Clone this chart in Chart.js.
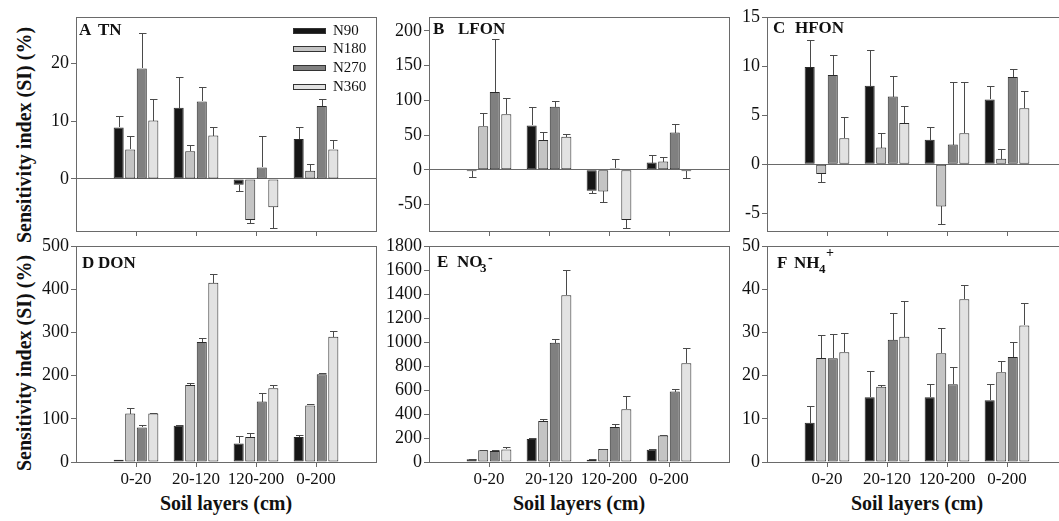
<!DOCTYPE html>
<html><head><meta charset="utf-8">
<script src="https://cdn.jsdelivr.net/npm/chart.js@4.4.1/dist/chart.umd.min.js"></script>
<style>
html,body{margin:0;padding:0;background:#fff;width:1059px;height:521px;overflow:hidden;position:relative;font-family:"Liberation Serif","Times New Roman",serif;color:#111;}
canvas{position:absolute;}
.ylab{position:absolute;font-weight:bold;font-size:20px;white-space:nowrap;transform:translate(-50%,-50%) rotate(-90deg);}
.xlab{position:absolute;font-weight:bold;font-size:20px;white-space:nowrap;transform:translate(-50%,-50%);}
</style></head><body>
<div class="ylab" style="left:24px;top:135px;">Sensitivity index (SI) (%)</div>
<div class="ylab" style="left:24px;top:363px;">Sensitivity index (SI) (%)</div>
<div class="xlab" style="left:226px;top:503px;">Soil layers (cm)</div>
<div class="xlab" style="left:579px;top:503px;">Soil layers (cm)</div>
<div class="xlab" style="left:917px;top:503px;">Soil layers (cm)</div>
<script>
// ---------- data ----------
const categories = ['0-20', '20-120', '120-200', '0-200'];
const seriesNames = ['N90', 'N180', 'N270', 'N360'];
// each panel: rows = N90, N180, N270, N360 ; columns follow categories
const TN_mean = [[8.9, 12.3, -1.0, 6.9], [5.1, 4.8, -7.1, 1.4], [19.1, 13.4, 2.0, 12.6], [10.1, 7.5, -4.9, 5.1]];
const TN_err  = [[2.0, 5.4, 1.1, 2.0], [2.3, 1.1, 0.6, 1.2], [6.1, 2.5, 5.4, 1.3], [3.8, 1.4, 3.6, 1.6]];
const LFON_mean = [[-2, 64, -30, 10.5], [62.7, 43, -31, 12], [112, 91, 2, 53.6], [80, 47.5, -72, -2]];
const LFON_err  = [[7.6, 26, 3, 11.5], [19, 11, 15, 7], [77, 7.5, 13, 13], [24, 3.5, 11, 9]];
const HFON_mean = [[9.9, 8.0, 2.5, 6.6], [-1.0, 1.7, -4.3, 0.55], [9.1, 6.9, 2.0, 8.9], [2.65, 4.2, 3.15, 5.7]];
const HFON_err  = [[2.8, 3.6, 1.25, 1.4], [0.85, 1.45, 1.8, 1.05], [2.0, 2.1, 6.4, 0.85], [2.2, 1.75, 5.25, 1.8]];
const DON_mean = [[5, 84, 43, 58], [112, 178, 58, 131], [80, 278, 140, 203], [112, 415, 171, 290]];
const DON_err  = [[0, 2.5, 17, 5.5], [14, 6, 9, 3], [5, 10, 19, 3], [1.5, 21, 8, 13]];
const NO3_mean = [[22, 191, 19, 102], [97, 341, 108, 221], [91, 994, 291, 587], [105, 1390, 440, 822]];
const NO3_err  = [[6, 8, 6, 9], [5, 16, 3, 6], [11, 28, 27, 19], [22, 208, 111, 125]];
const NH4_mean = [[9.1, 15, 15, 14.3], [24.1, 17.4, 25.2, 20.8], [24, 28.3, 18, 24.3], [25.4, 29, 37.7, 31.6]];
const NH4_err  = [[3.9, 6, 3, 3.7], [5.2, 0.4, 5.8, 2.6], [5.7, 6.1, 4, 3.4], [4.5, 8.2, 3.3, 5.3]];
// tick labels
const TN_ticks = [0, 10, 20];
const LFON_ticks = [-50, 0, 50, 100, 150, 200];
const HFON_ticks = [-5, 0, 5, 10, 15];
const DON_ticks = [0, 100, 200, 300, 400, 500];
const NO3_ticks = [0, 200, 400, 600, 800, 1000, 1200, 1400, 1600, 1800];
const NH4_ticks = [0, 10, 20, 30, 40, 50];

// ---------- styles / layout ----------
const seriesColors = ['#161616', '#c4c4c4', '#808080', '#e2e2e2'];
const FONT = '"Liberation Serif","Times New Roman",serif';
const BOX = '#6a6a6a';
const YW = 75, PT = 14, PR = 6;

const panels = [
  {mean: TN_mean, err: TN_err, ticks: TN_ticks, min: -9, max: 28, box: [76, 17, 376, 231], bottom: false, legend: true,
   title: [{t: 'A', dx: 3, dy: 18}, {t: 'TN', dx: 22, dy: 18}]},
  {mean: LFON_mean, err: LFON_err, ticks: LFON_ticks, min: -88, max: 220, box: [429, 17, 729, 231], bottom: false,
   title: [{t: 'B', dx: 4, dy: 17}, {t: 'LFON', dx: 29, dy: 17}]},
  {mean: HFON_mean, err: HFON_err, ticks: HFON_ticks, min: -6.8, max: 15, box: [767, 17, 1067, 231], bottom: false,
   title: [{t: 'C', dx: 6, dy: 16}, {t: 'HFON', dx: 28, dy: 16}]},
  {mean: DON_mean, err: DON_err, ticks: DON_ticks, min: 0, max: 500, box: [76, 246, 376, 462], bottom: true,
   title: [{t: 'D', dx: 6, dy: 22}, {t: 'DON', dx: 22, dy: 22}]},
  {mean: NO3_mean, err: NO3_err, ticks: NO3_ticks, min: 0, max: 1800, box: [429, 246, 729, 462], bottom: true,
   title: [{t: 'E', dx: 8, dy: 21}, {t: 'NO', dx: 28, dy: 21}, {t: '3', dx: 51, dy: 26, size: 13}, {t: '-', dx: 59, dy: 16, size: 14}]},
  {mean: NH4_mean, err: NH4_err, ticks: NH4_ticks, min: 0, max: 50, box: [767, 246, 1067, 462], bottom: true,
   title: [{t: 'F', dx: 10, dy: 22}, {t: 'NH', dx: 27, dy: 22}, {t: '4', dx: 52, dy: 27, size: 13}, {t: '+', dx: 59, dy: 11, size: 14}]}
];

const decoPlugin = {
  id: 'deco',
  afterDatasetsDraw(chart) {
    const p = chart.canvas.$panel;
    if (!p) return;
    const {ctx, chartArea: a} = chart;
    const y = chart.scales.y;
    ctx.save();
    // error bars
    ctx.strokeStyle = '#4a4a4a';
    ctx.lineWidth = 1;
    chart.data.datasets.forEach((ds, i) => {
      const meta = chart.getDatasetMeta(i);
      meta.data.forEach((el, j) => {
        const v = ds.data[j];
        const e = ds.err[j];
        if (v == null || !e) return;
        const cap = v >= 0 ? v + e : v - e;
        const xp = Math.round(el.x) + 0.5;
        const y1 = Math.round(y.getPixelForValue(cap)) + 0.5;
        ctx.beginPath();
        ctx.moveTo(xp, Math.round(el.y));
        ctx.lineTo(xp, y1);
        ctx.moveTo(xp - 3.5, y1);
        ctx.lineTo(xp + 4, y1);
        ctx.stroke();
      });
    });
    // frame
    ctx.strokeStyle = BOX;
    ctx.strokeRect(Math.round(a.left) + 0.5, Math.round(a.top) + 0.5, Math.round(a.right - a.left), Math.round(a.bottom - a.top));
    // panel title
    ctx.fillStyle = '#111';
    ctx.textBaseline = 'alphabetic';
    ctx.textAlign = 'left';
    p.title.forEach(part => {
      ctx.font = 'bold ' + (part.size || 17) + 'px ' + FONT;
      ctx.fillText(part.t, a.left + part.dx, a.top + part.dy);
    });
    // legend
    if (p.legend) {
      ctx.font = '15px ' + FONT;
      ctx.textBaseline = 'middle';
      seriesNames.forEach((n, i) => {
        const cy = Math.round(a.top + 13.5 + i * 18.7);
        ctx.fillStyle = seriesColors[i];
        ctx.fillRect(a.left + 217, cy - 2, 32, 5);
        ctx.strokeStyle = '#333';
        ctx.strokeRect(a.left + 217.5, cy - 2.5, 32, 5);
        ctx.fillStyle = '#111';
        ctx.fillText(n, a.left + 257, cy + 0.5);
      });
    }
    ctx.restore();
  }
};

panels.forEach(p => {
  const [L, T, R, B] = p.box;
  const xh = p.bottom ? 35 : 16;
  const cv = document.createElement('canvas');
  const w = (R - L) + YW + PR, h = (B - T) + PT + xh;
  cv.width = w; cv.height = h;
  cv.style.left = (L - YW) + 'px';
  cv.style.top = (T - PT) + 'px';
  cv.style.width = w + 'px'; cv.style.height = h + 'px';
  cv.$panel = p;
  document.body.appendChild(cv);
  const labels = [''].concat(categories, ['']);
  const datasets = seriesNames.map((n, i) => ({
    label: n,
    data: [null].concat(p.mean[i], [null]),
    err: [null].concat(p.err[i], [null]),
    backgroundColor: seriesColors[i],
    borderColor: '#2a2a2a',
    borderWidth: 1,
    borderSkipped: false,
    categoryPercentage: 0.77,
    barPercentage: 0.87
  }));
  new Chart(cv, {
    type: 'bar',
    data: {labels, datasets},
    options: {
      responsive: false,
      animation: false,
      devicePixelRatio: 1,
      layout: {padding: {top: PT, right: PR, left: 0, bottom: 0}},
      plugins: {legend: {display: false}, tooltip: {enabled: false}},
      scales: {
        x: {
          type: 'category',
          offset: false,
          border: {display: false},
          grid: {
            offset: false,
            drawOnChartArea: false, drawTicks: true, tickLength: 5,
            color: c => (c.index === 0 || c.index === labels.length - 1) ? 'rgba(0,0,0,0)' : BOX
          },
          ticks: {
            display: p.bottom, autoSkip: false, maxRotation: 0, minRotation: 0, padding: 2,
            color: '#111', font: {family: FONT, size: 17}
          },
          afterFit: s => { s.height = xh; }
        },
        y: {
          type: 'linear',
          min: p.min, max: p.max,
          border: {display: false},
          grid: {
            drawTicks: true, tickLength: 5, tickColor: BOX,
            color: c => (c.tick && c.tick.value === 0) ? BOX : 'rgba(0,0,0,0)'
          },
          ticks: {
            autoSkip: false,
            padding: 2, color: '#111', font: {family: FONT, size: 18},
            callback: v => String(v)
          },
          afterBuildTicks: s => { s.ticks = p.ticks.map(v => ({value: v})); },
          afterFit: s => { s.width = YW; }
        }
      }
    },
    plugins: [decoPlugin]
  });
});
</script>
</body></html>
